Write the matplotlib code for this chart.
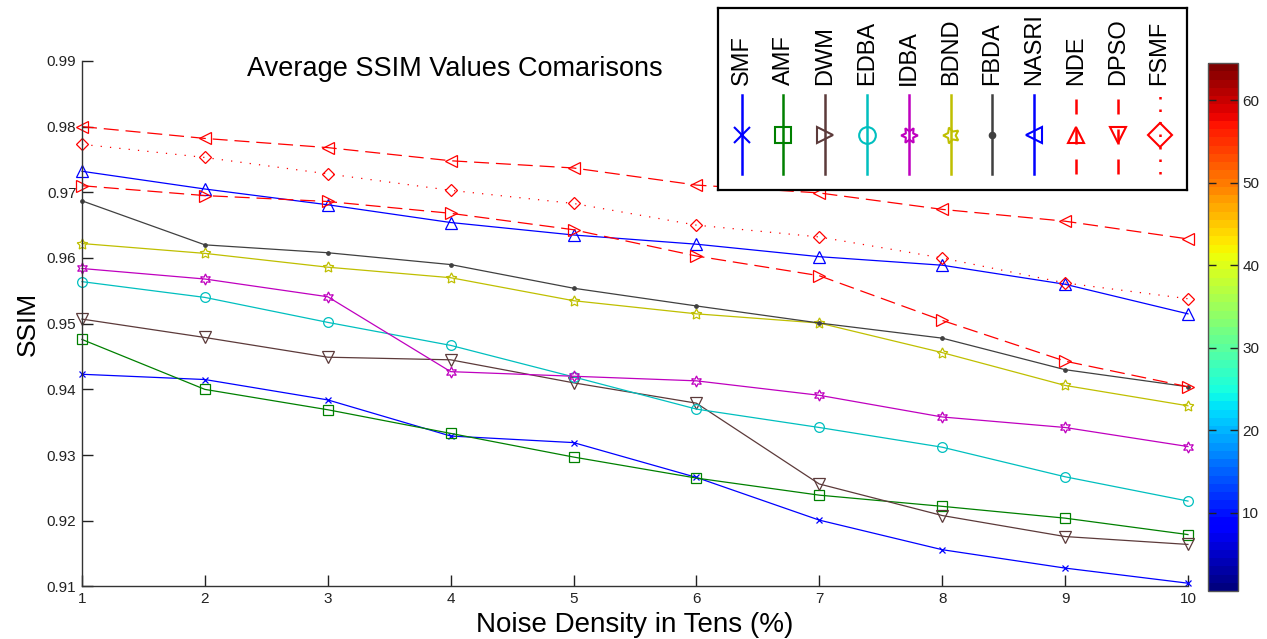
import numpy as np
import matplotlib
matplotlib.use("Agg")
import matplotlib.pyplot as plt
from matplotlib.colors import ListedColormap, Normalize
from matplotlib.cm import ScalarMappable

plt.rcParams['font.family'] = ['Liberation Sans', 'DejaVu Sans']

# ---------------- data ----------------
noise = [1, 2, 3, 4, 5, 6, 7, 8, 9, 10]
names = ["SMF", "AMF", "DWM", "EDBA", "IDBA", "BDND", "FBDA", "NASRI", "NDE", "DPSO", "FSMF"]
smf   = [0.9423, 0.9415, 0.9384, 0.9329, 0.9319, 0.9266, 0.9201, 0.9156, 0.9128, 0.9105]
amf   = [0.9476, 0.9400, 0.9369, 0.9333, 0.9297, 0.9265, 0.9239, 0.9222, 0.9204, 0.9179]
dwm   = [0.9507, 0.9479, 0.9449, 0.9445, 0.9410, 0.9379, 0.9256, 0.9208, 0.9176, 0.9164]
edba  = [0.9564, 0.9540, 0.9502, 0.9467, 0.9419, 0.9370, 0.9342, 0.9312, 0.9267, 0.9230]
idba  = [0.9584, 0.9568, 0.9541, 0.9427, 0.9420, 0.9413, 0.9391, 0.9358, 0.9342, 0.9313]
bdnd  = [0.9622, 0.9607, 0.9586, 0.9570, 0.9535, 0.9515, 0.9501, 0.9456, 0.9406, 0.9375]
fbda  = [0.9687, 0.9620, 0.9608, 0.9590, 0.9554, 0.9527, 0.9501, 0.9478, 0.9430, 0.9404]
nasri = [0.9732, 0.9705, 0.9681, 0.9654, 0.9635, 0.9621, 0.9602, 0.9589, 0.9560, 0.9515]
nde   = [0.9710, 0.9695, 0.9686, 0.9668, 0.9643, 0.9603, 0.9573, 0.9505, 0.9443, 0.9404]
dpso  = [0.9800, 0.9782, 0.9768, 0.9748, 0.9737, 0.9711, 0.9699, 0.9674, 0.9656, 0.9629]
fsmf  = [0.9773, 0.9753, 0.9728, 0.9703, 0.9683, 0.9650, 0.9632, 0.9600, 0.9562, 0.9538]
series = [smf, amf, dwm, edba, idba, bdnd, fbda, nasri, nde, dpso, fsmf]
yticks = [0.91, 0.92, 0.93, 0.94, 0.95, 0.96, 0.97, 0.98, 0.99]
cbar_ticks = [10, 20, 30, 40, 50, 60]

# ---------------- styles ----------------
colors = ["#0000ff", "#008000", "#5c3a3a", "#00bfbf", "#bf00bf", "#bfbf00",
          "#404040", "#0000ff", "#ff0000", "#ff0000", "#ff0000"]
markers = ["x", "s", "v", "o", (6, 1, 0), (5, 1, 0), ".", "^", ">", "<", "D"]
leg_markers = ["x", "s", ">", "o", (6, 1, 90), (5, 1, 90), ".", "<", "^", "v", "D"]
msizes = [5, 7, 8, 7, 8, 8, 5, 8, 8, 8, 6]
dash = [None, None, None, None, None, None, None, None, (12, 5.5), (12, 5.5), (1, 6.5)]

fig = plt.figure(figsize=(12.67, 6.39), dpi=100)
ax = fig.add_axes([0.0647, 0.0822, 0.8729, 0.8225])

for vals, c, m, ms, d in zip(series, colors, markers, msizes, dash):
    filled = (m == ".")
    ln, = ax.plot(noise, vals, color=c, lw=0.9, marker=m, ms=ms,
                  mfc=(c if filled else 'none'), mec=c, mew=0.9, clip_on=False)
    if d is not None:
        ln.set_dashes(d)

ax.set_xlim(1, 10)
ax.set_ylim(0.91, 0.99)
ax.set_xticks(noise)
ax.set_xticklabels([str(v) for v in noise])
ax.set_yticks(yticks)
ax.set_yticklabels([f"{v:.2f}" for v in yticks])
ax.tick_params(direction='in', length=8, width=1, colors='#222222', labelsize=11, pad=4)
for s in ['top', 'right']:
    ax.spines[s].set_visible(False)
for s in ['left', 'bottom']:
    ax.spines[s].set_color('#333333')
    ax.spines[s].set_linewidth(1.0)

ax.set_ylabel("SSIM", fontsize=19)
ax.yaxis.set_label_coords(-0.038, 0.5)
ax.set_xlabel("Noise Density in Tens (%)", fontsize=20, va='top')
ax.xaxis.set_label_coords(0.5, -0.049)

fig.text(0.359, 0.892, "Average SSIM Values Comarisons", fontsize=19.5,
         ha='center', va='center')

# ---------------- legend (rotated, MATLAB style) ----------------
lax = fig.add_axes([0.5667, 0.7027, 0.3702, 0.2848], zorder=5)
lax.set_xlim(0, 1)
lax.set_ylim(0, 1)
lax.set_xticks([])
lax.set_yticks([])
lax.set_facecolor('white')
for s in lax.spines.values():
    s.set_linewidth(1.6)
    s.set_color('black')
for i, (nm, c, m, d) in enumerate(zip(names, colors, leg_markers, dash)):
    xc = 0.0505 + i * 0.0891
    ln, = lax.plot([xc, xc], [0.088, 0.522], color=c, lw=1.8)
    if d is not None:
        ln.set_dashes((6, 6) if d[0] > 2 else (1, 4))
    filled = (m == ".")
    lax.plot([xc], [0.302], marker=m, ms=(12 if not filled else 8), mfc=(c if filled else 'none'),
             mec=c, mew=1.5, ls='none')
    lax.text(xc, 0.577, nm, rotation=90, ha='center', va='bottom', fontsize=17)

# ---------------- colorbar ----------------
cax = fig.add_axes([0.9534, 0.0751, 0.0237, 0.8263])
cmap = ListedColormap(plt.get_cmap('jet')(np.linspace(0, 1, 64)))
sm = ScalarMappable(norm=Normalize(0.5, 64.5), cmap=cmap)
cb = fig.colorbar(sm, cax=cax, ticks=cbar_ticks)
cb.outline.set_edgecolor('#555555')
cb.outline.set_linewidth(1.0)
cax.yaxis.set_ticks_position('both')
cax.tick_params(direction='in', length=6, width=1, colors='#222222', labelsize=11,
                labelleft=False, labelright=True, pad=3)

fig.savefig("out.png", dpi=100)
